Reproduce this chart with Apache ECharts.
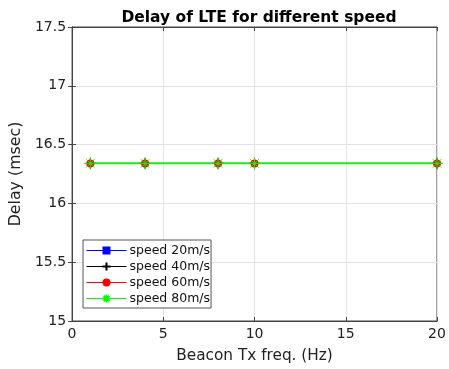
<!DOCTYPE html>
<html>
<head>
    <meta charset="utf-8">
    <title>Delay of LTE</title>
    <script src="https://cdn.jsdelivr.net/npm/echarts@6/dist/echarts.min.js"></script>
    <style>
        html, body { margin: 0; padding: 0; background: #fff; }
        #chart { width: 449px; height: 369px; }
    </style>
</head>
<body>
    <div id="chart"></div>
    <script type="text/javascript">
        // beacon frequencies (Hz)
        var freqs = [1, 4, 8, 10, 20];
        // delay in msec per speed
        var speed20 = [16.34, 16.34, 16.34, 16.34, 16.34];
        var speed40 = [16.34, 16.34, 16.34, 16.34, 16.34];
        var speed60 = [16.34, 16.34, 16.34, 16.34, 16.34];
        var speed80 = [16.34, 16.34, 16.34, 16.34, 16.34];
        var names = ['speed 20m/s', 'speed 40m/s', 'speed 60m/s', 'speed 80m/s'];
        var colors = ['#0000ff', '#000000', '#ff0000', '#00ff00'];

        function pairs(ys) {
            var out = [];
            for (var i = 0; i < freqs.length; i++) out.push([freqs[i], ys[i]]);
            return out;
        }

        var font = 'DejaVu Sans';
        var plus = 'path://M0,-1L0,1M-1,0L1,0';
        var star = 'path://M0,-1L0,1M-1,0L1,0M-0.7,-0.7L0.7,0.7M-0.7,0.7L0.7,-0.7';

        var legendData = names.map(function (n, i) {
            return { name: n, lineStyle: { color: colors[i], width: 1 } };
        });

        var myChart = echarts.init(document.getElementById('chart'));
        var option = {
            animation: false,
            title: {
                text: 'Delay of LTE for different speed',
                left: 254, top: 5, textAlign: 'center',
                textStyle: { fontFamily: font, fontSize: 15.5, fontWeight: 'bold', color: '#000' }
            },
            legend: {
                orient: 'vertical',
                left: 83, top: 240,
                data: legendData,
                borderColor: '#555', borderWidth: 1,
                backgroundColor: '#fff',
                padding: [4, 1, 3, 3],
                itemGap: 3,
                itemWidth: 40, itemHeight: 10,
                textStyle: { fontFamily: font, fontSize: 12.5, color: '#111', padding: [0, 0, 0, -2] }
            },
            grid: {
                left: 72, right: 12, top: 27, bottom: 46,
                show: true, borderColor: '#444', borderWidth: 1
            },
            xAxis: [{
                type: 'value', min: 0, max: 20, interval: 5,
                name: 'Beacon Tx freq. (Hz)', nameLocation: 'middle', nameGap: 28,
                nameTextStyle: { fontFamily: font, fontSize: 15.3, color: '#222' },
                axisLine: { lineStyle: { color: '#444' } },
                axisTick: { inside: true, length: 4, lineStyle: { color: '#444' } },
                axisLabel: { fontFamily: font, fontSize: 14, color: '#222', margin: 6 },
                splitLine: { lineStyle: { color: '#e3e3e3' } }
            }, {
                type: 'value', min: 0, max: 20, interval: 5, position: 'top',
                axisLine: { lineStyle: { color: '#444' } },
                axisTick: { inside: true, length: 4, lineStyle: { color: '#444' } },
                axisLabel: { show: false }, splitLine: { show: false }
            }],
            yAxis: [{
                type: 'value', min: 15, max: 17.5, interval: 0.5,
                name: 'Delay (msec)', nameLocation: 'middle', nameGap: 38,
                nameTextStyle: { fontFamily: font, fontSize: 15.8, color: '#222' },
                axisLine: { show: true, lineStyle: { color: '#444' } },
                axisTick: { show: true, inside: true, length: 4, lineStyle: { color: '#444' } },
                axisLabel: { fontFamily: font, fontSize: 14, color: '#222', margin: 6 },
                splitLine: { lineStyle: { color: '#e3e3e3' } }
            }, {
                type: 'value', min: 15, max: 17.5, interval: 0.5, position: 'right',
                axisLine: { show: true, lineStyle: { color: '#444' } },
                axisTick: { show: true, inside: true, length: 4, lineStyle: { color: '#444' } },
                axisLabel: { show: false }, splitLine: { show: false }
            }],
            series: [{
                name: names[0], type: 'line', data: pairs(speed20),
                symbol: 'rect', symbolSize: 5,
                lineStyle: { color: colors[0], width: 1 },
                itemStyle: { color: colors[0] }
            }, {
                name: names[1], type: 'line', data: pairs(speed40),
                symbol: plus, symbolSize: 11,
                lineStyle: { color: colors[1], width: 1 },
                itemStyle: { color: 'none', borderColor: colors[1], borderWidth: 1 }
            }, {
                name: names[2], type: 'line', data: pairs(speed60),
                symbol: 'circle', symbolSize: 8,
                lineStyle: { color: colors[2], width: 1 },
                itemStyle: { color: colors[2] }
            }, {
                name: names[3], type: 'line', data: pairs(speed80),
                symbol: star, symbolSize: 12,
                lineStyle: { color: colors[3], width: 1.6 },
                itemStyle: { color: 'none', borderColor: colors[3], borderWidth: 1 }
            }]
        };
        myChart.setOption(option);
    </script>
</body>
</html>
